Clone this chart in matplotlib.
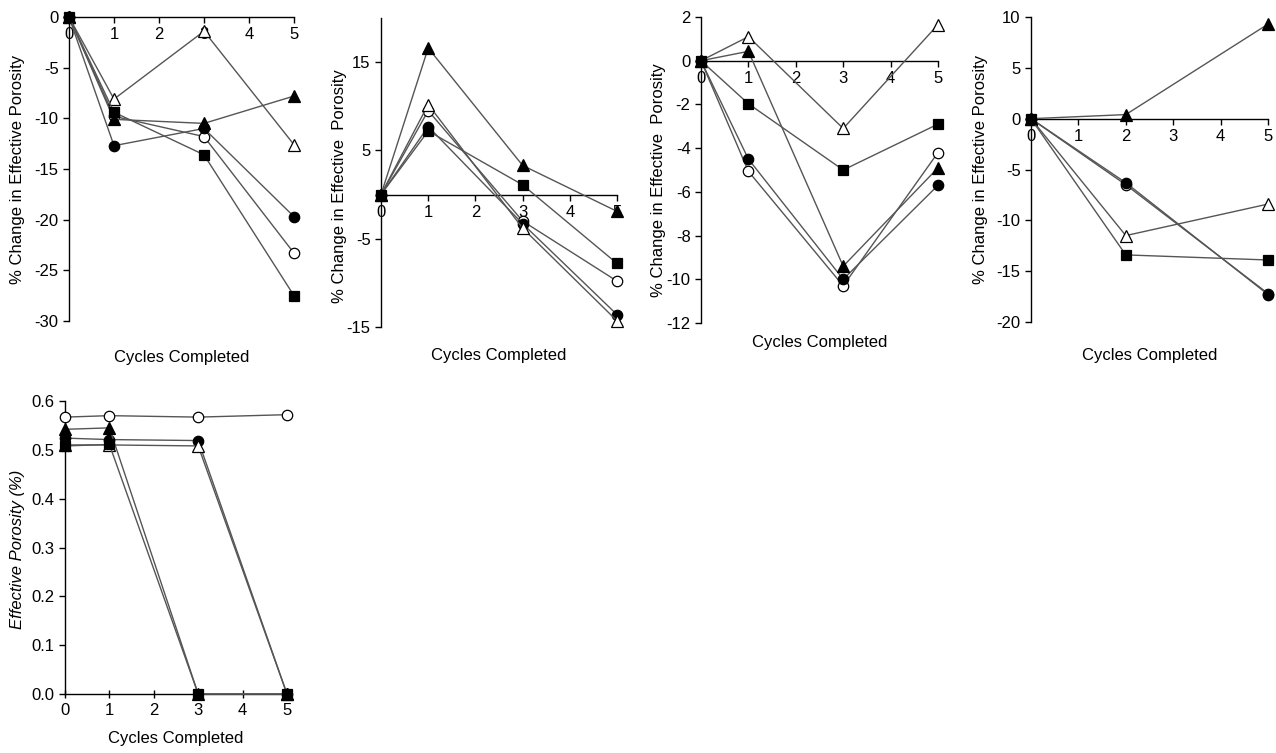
import numpy as np
import matplotlib as mpl
mpl.use('Agg')
from matplotlib import pyplot as plt
from matplotlib.ticker import FormatStrFormatter

plt.rcParams['font.family'] = ['Liberation Sans', 'DejaVu Sans']
plt.rcParams['font.size'] = 12
plt.rcParams['axes.unicode_minus'] = False

# ---------------------------------------------------------------- data
# series order: filled square, filled triangle, open triangle, filled circle, open circle
cycA = [0, 1, 3, 5]
cycB = [0, 2, 5]

p1_sq = [0, -9.4, -13.6, -27.5]
p1_tf = [0, -10.1, -10.5, -7.8]
p1_to = [0, -8.1, -1.4, -12.6]
p1_cf = [0, -12.7, -11.0, -19.7]
p1_co = [0, -9.8, -11.8, -23.3]

p2_sq = [0, 7.2, 1.1, -7.8]
p2_tf = [0, 16.6, 3.3, -1.9]
p2_to = [0, 10.2, -3.8, -14.3]
p2_cf = [0, 7.7, -3.3, -13.6]
p2_co = [0, 9.5, -3.0, -9.8]

p3_sq = [0, -1.97, -5.0, -2.9]
p3_tf = [0, 0.43, -9.4, -4.9]
p3_to = [0, 1.1, -3.1, 1.65]
p3_cf = [0, -4.5, -10.0, -5.7]
p3_co = [0, -5.06, -10.3, -4.2]

p4_sq = [0, -13.4, -13.9]
p4_tf = [0, 0.4, 9.3]
p4_to = [0, -11.5, -8.4]
p4_cf = [0, -6.3, -17.3]
p4_co = [0, -6.5, -17.2]

p5_sq = [0.508, 0.511, 0.0, 0.0]
p5_tf = [0.542, 0.545, 0.0, 0.0]
p5_to = [0.510, 0.510, 0.508, 0.0]
p5_cf = [0.524, 0.521, 0.519, 0.0]
p5_co = [0.567, 0.570, 0.567, 0.572]

# ---------------------------------------------------------------- layout (pixels)
W, H = 1276, 753
f = plt.figure(figsize = (W / 100, H / 100), dpi = 100)

def px_axes(left, right, top, bottom):
    return f.add_axes([left / W, 1 - bottom / H, (right - left) / W, (bottom - top) / H])

styles = [dict(marker = 'o', mfc = 'white', ms = 7.5),   # open circle
          dict(marker = 'o', mfc = 'black', ms = 7.5),   # filled circle
          dict(marker = '^', mfc = 'white', ms = 8.0),   # open triangle
          dict(marker = '^', mfc = 'black', ms = 8.0),   # filled triangle
          dict(marker = 's', mfc = 'black', ms = 7.0)]   # filled square

def draw(ax, x, series):
    for s, st in zip(series, styles):
        ax.plot(x, s, color = '#555555', lw = 1.0, mec = 'black', mew = 0.9,
                clip_on = False, zorder = 3, **st)

def style_axes(ax, ylim, yticks, xlab_y, ylab, ylab_x, ylab_y = 0.5, zero_axis = True):
    ax.set_xlim(0, 5)
    ax.set_ylim(*ylim)
    ax.set_xticks(range(6))
    ax.set_yticks(yticks)
    ax.spines['top'].set_visible(False)
    ax.spines['right'].set_visible(False)
    if zero_axis:
        ax.spines['bottom'].set_position(('data', 0))
    for sp in ax.spines.values():
        sp.set_linewidth(1.0)
    ax.tick_params(direction = 'out', length = 4, width = 1.0)
    ax.set_xlabel('Cycles Completed')
    ax.xaxis.label.set_va('center')
    ax.xaxis.set_label_coords(0.5, xlab_y)
    ax.set_ylabel(ylab)
    ax.yaxis.label.set_va('center')
    ax.yaxis.set_label_coords(ylab_x, ylab_y)

# panel 1
ax1 = px_axes(69, 294, 17, 321)
draw(ax1, cycA, [p1_co, p1_cf, p1_to, p1_tf, p1_sq])
style_axes(ax1, (-30, 0), range(-30, 1, 5), (321 - 357) / 304,
           '% Change in Effective Porosity', (18 - 69) / 225)

# panel 2
ax2 = px_axes(381, 617, 18, 327)
draw(ax2, cycA, [p2_co, p2_cf, p2_to, p2_tf, p2_sq])
style_axes(ax2, (-15, 20), [-15, -5, 5, 15], (327 - 355) / 309,
           '% Change in Effective  Porosity', (340 - 381) / 236, (327 - 186) / 309)

# panel 3
ax3 = px_axes(701, 938, 17, 323)
draw(ax3, cycA, [p3_co, p3_cf, p3_to, p3_tf, p3_sq])
style_axes(ax3, (-12, 2), range(-12, 3, 2), (323 - 342) / 306,
           '% Change in Effective  Porosity', (659 - 701) / 237, (323 - 180) / 306)

# panel 4
ax4 = px_axes(1031, 1268, 17, 322)
draw(ax4, cycB, [p4_co, p4_cf, p4_to, p4_tf, p4_sq])
style_axes(ax4, (-20, 10), range(-20, 11, 5), (322 - 355) / 305,
           '% Change in Effective Porosity', (981 - 1031) / 237)

# panel 5
ax5 = px_axes(65, 287, 401, 694)
draw(ax5, cycA, [p5_co, p5_cf, p5_to, p5_tf, p5_sq])
style_axes(ax5, (0, 0.6), np.arange(0, 0.61, 0.1), (694 - 739) / 293,
           'Effective Porosity (%)', (18 - 65) / 222, (694 - 549) / 293,
           zero_axis = False)
ax5.yaxis.label.set_style('italic')
ax5.yaxis.set_major_formatter(FormatStrFormatter('%.1f'))
ax5.tick_params(axis = 'x', direction = 'inout', length = 6)

f.savefig('out.png', dpi = 100)
plt.close()
